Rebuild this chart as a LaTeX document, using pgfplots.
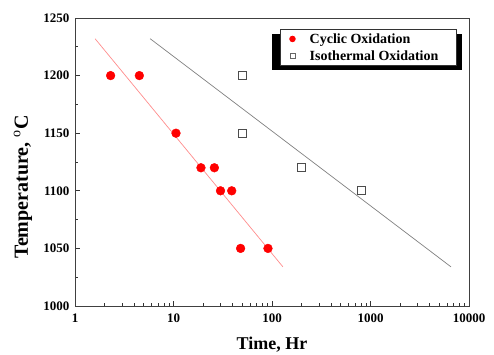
\documentclass[border=0pt]{standalone}
\usepackage{fontspec}
\setmainfont{Liberation Serif}
\usepackage{pgfplots}
\pgfplotsset{compat=1.18}
\begin{document}
\begin{tikzpicture}
\path[use as bounding box] (0,0) rectangle (494pt,355pt);
\begin{axis}[
  at={(75pt,49pt)}, anchor=south west,
  scale only axis, width=394pt, height=288pt,
  xmode=log, xmin=1, xmax=10000,
  ymin=1000, ymax=1250,
  xtick={1,10,100,1000,10000},
  xticklabels={1,10,100,1000,10000},
  ytick={1000,1050,1100,1150,1200,1250},
  yticklabels={1000,1050,1100,1150,1200,1250},
  minor y tick num=1,
  xtick pos=bottom, ytick pos=left,
  major tick length=5pt, minor tick length=3pt,
  axis line style={black!75, line width=0.9pt},
  every tick/.style={black!80, line width=0.8pt},
  ticklabel style={font=\bfseries\fontsize{13}{13}\selectfont},
  /pgf/number format/assume math mode=true,
  xticklabel style={yshift=-4pt},
  yticklabel style={xshift=-2pt},
  xlabel={\bfseries\fontsize{18}{18}\selectfont Time, Hr},
  ylabel={\bfseries\fontsize{20}{20}\selectfont Temperature, $^{\mathrm{o}}$C},
  xlabel style={at={(axis description cs:0.5,0)}, anchor=center, yshift=-39pt},
  ylabel style={at={(axis description cs:0,0.5)}, anchor=center, yshift=52pt, xshift=-25pt},
  legend style={at={(axis description cs:0.52,0.962)}, anchor=north west,
    draw=black!80, line width=0.8pt, fill=white,
    font=\bfseries\fontsize{14}{14}\selectfont,
    inner xsep=9pt, inner ysep=2pt, row sep=2pt, column sep=12pt,
    legend cell align=left},
]
\fill[black] (axis description cs:0.500,0.944) rectangle (axis description cs:0.982,0.819);
\addplot[only marks, mark=*, mark size=4.4pt, color=red, fill=red,
  legend image code/.code={\fill[red] (0.3cm,0) circle (2.8pt);}]
  coordinates {(2.3,1200) (4.5,1200) (10.6,1150) (19,1120) (26,1120) (30,1100) (39,1100) (48,1050) (91,1050)};
\addlegendentry{Cyclic Oxidation}
\addplot[only marks, mark=square, mark size=4pt, color=black!70, line width=0.9pt,
  legend image code/.code={\draw[black!60, line width=0.5pt] (0.3cm-2.5pt,-2.5pt) rectangle (0.3cm+2.5pt,2.5pt);}]
  coordinates {(50,1200) (50,1150) (200,1120) (800,1100)};
\addlegendentry{Isothermal Oxidation\rule{7pt}{0pt}}
\addplot[red!45, line width=0.7pt, forget plot] coordinates {(1.6,1232) (129,1034)};
\addplot[black!50, line width=0.7pt, forget plot] coordinates {(5.8,1232) (6560,1034)};
\end{axis}
\end{tikzpicture}
\end{document}
